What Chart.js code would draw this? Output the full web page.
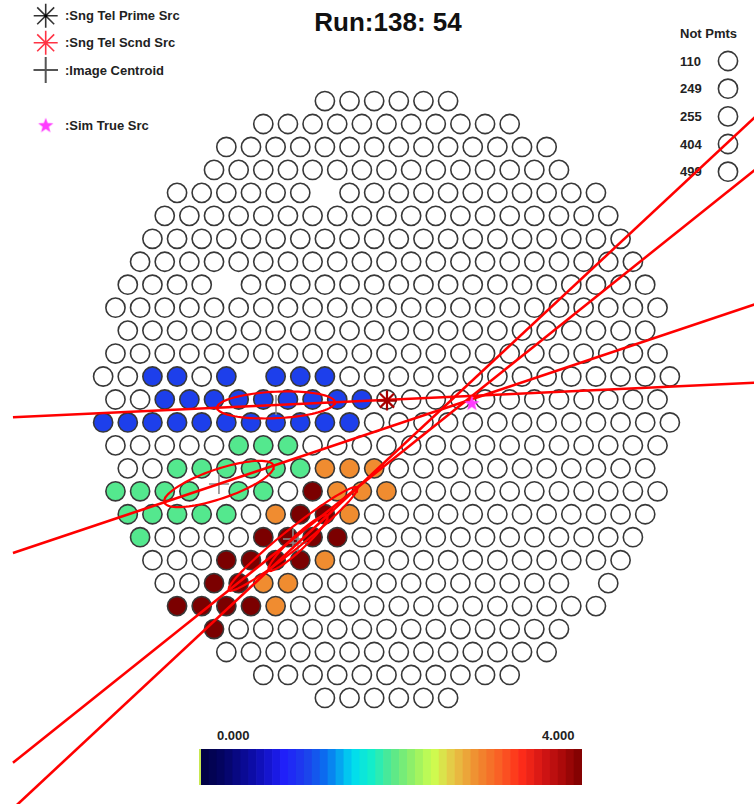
<!DOCTYPE html>
<html>
<head>
<meta charset="utf-8">
<script src="https://cdn.jsdelivr.net/npm/chart.js@4.4.1/dist/chart.umd.min.js"></script>
<style>
html,body{margin:0;padding:0;background:#fff;}
#wrap{position:relative;width:754px;height:804px;overflow:hidden;font-family:"Liberation Sans",Arial,Helvetica,sans-serif;}
.t{position:absolute;font-weight:bold;line-height:1;white-space:nowrap;color:#222;font-size:13px;z-index:1;}
#title{font-size:26px;color:#111;transform:translateX(-50%);}
#main{position:absolute;left:0;top:0;z-index:2;}
#cbar{position:absolute;left:201px;top:749px;z-index:3;}
#cbarEdge{position:absolute;left:199px;top:749px;width:2px;height:36px;background:#c8e850;z-index:3;}
</style>
</head>
<body>
<div id="wrap">
  <canvas id="main" width="754" height="804"></canvas>
  <div id="cbarEdge"></div>
  <canvas id="cbar" width="381" height="36"></canvas>
</div>
<script>
// ---------------- data ----------------
const runTitle = 'Run:138: 54';
const legendLabels = [':Sng Tel Prime Src', ':Sng Tel Scnd Src', ':Image Centroid', ':Sim True Src'];
const notPmtsTitle = 'Not Pmts';
const notPmtIds = [110, 249, 255, 404, 499];
// camera position (row, column in half-pitch units) of the switched-off PMTs
const notPmtRows = [4, 8, 12, 17, 21];
const notPmtCols = [-5, -13, -11, -14, 16];
// camera layout: half width of every pixel row (in half-pitch units)
const rowHalfWidths = [5,10,13,14,17,18,19,20,21,22,21,22,23,22,23,22,21,22,21,20,19,18,17,14,13,10,5];

// hit pixels: row, column, amplitude
const hitRow = [
  12,12,12,12,12,12,
  13,13,13,13,13,13,13,13,13,
  14,14,14,14,14,14,14,14,14,14,14,
  15,15,15,
  16,16,16,16,16,16,
  17,17,17,17,17,17,
  18,18,18,18,18,
  19,
  16,16,16,17,17,17,18,18,20,21,21,22,
  17,18,18,19,19,19,19,20,20,20,20,21,21,22,22,22,22,23
];
const hitCol = [
  -19,-17,-13,-9,-7,-5,
  -18,-16,-14,-12,-10,-8,-6,-4,-2,
  -23,-21,-19,-17,-15,-13,-11,-9,-7,-5,-3,
  -12,-10,-8,
  -17,-15,-13,-11,-9,-7,
  -22,-20,-18,-16,-12,-10,
  -21,-19,-17,-15,-13,
  -20,
  -5,-3,-1,-4,-2,0,-9,-3,-5,-10,-8,-9,
  -6,-7,-5,-10,-8,-6,-4,-13,-11,-9,-7,-14,-12,-17,-15,-13,-11,-14
];
const hitAmp = [
  1.1,1.1,1.1,1.1,1.1,1.1,
  1.1,1.1,1.1,1.1,1.1,1.1,1.1,1.1,1.1,
  1.1,1.1,1.1,1.1,1.1,1.1,1.1,1.1,1.1,1.1,1.1,
  2.0,2.0,2.0,
  2.0,2.0,2.0,2.0,2.0,2.0,
  2.0,2.0,2.0,2.0,2.0,2.0,
  2.0,2.0,2.0,2.0,2.0,
  2.0,
  2.9,2.9,2.9,2.9,2.9,2.9,2.9,2.9,2.9,2.9,2.9,2.9,
  4.0,4.0,4.0,4.0,4.0,4.0,4.0,4.0,4.0,4.0,4.0,4.0,4.0,4.0,4.0,4.0,4.0,4.0
];

// Hillas ellipses (camera units: pixel pitch)
const ellCx = [-4.485, -6.80, -3.795, -3.592];
const ellCy = [-0.207, -3.187, -5.262, -5.413];
const ellLength = [2.39, 2.32, 3.24, 1.57];
const ellWidth = [0.5, 0.56, 0.38, 0.28];
const ellAngle = [2.47, 17.3, 36.6, 40.9];
const axisXRange = [-15.16, 15.6];

// sources
const scndSrcX = [0.02];
const scndSrcY = [-0.04];
const simSrcX = [3.46];
const simSrcY = [-0.14];

// colour scale
const colorRange = [0, 4];
const colorTickLabels = ['0.000', '4.000'];
const nColorBands = 48;

// ---------------- helpers ----------------
const cmapStops = [
  [0.00,[0,0,64]],[0.06,[5,5,100]],[0.14,[12,12,170]],[0.22,[32,32,250]],
  [0.275,[29,63,235]],[0.33,[10,112,240]],[0.40,[0,220,240]],[0.45,[20,238,200]],
  [0.50,[84,232,142]],[0.56,[150,240,100]],[0.61,[205,255,80]],[0.66,[230,200,70]],
  [0.725,[240,140,48]],[0.79,[250,90,35]],[0.84,[255,45,25]],[0.90,[210,20,20]],
  [0.95,[170,10,10]],[1.00,[123,0,0]]
];
function colorFor(v){
  let t = (v - colorRange[0]) / (colorRange[1] - colorRange[0]);
  t = Math.max(0, Math.min(1, t));
  for (let i = 1; i < cmapStops.length; i++){
    if (t <= cmapStops[i][0]){
      const [t0,c0] = cmapStops[i-1], [t1,c1] = cmapStops[i];
      const f = (t - t0) / (t1 - t0);
      const c = c0.map((a,k)=>Math.round(a + (c1[k]-a)*f));
      return 'rgb(' + c.join(',') + ')';
    }
  }
  return 'rgb(123,0,0)';
}

const ROW_PITCH = Math.sqrt(3)/2;
const centerRow = (rowHalfWidths.length - 1) / 2;
const missing = new Set(notPmtRows.map((r,i)=>r + ':' + notPmtCols[i]));
const ampMap = new Map();
hitRow.forEach((r,i)=>ampMap.set(r + ':' + hitCol[i], hitAmp[i]));

const pixPts = [], pixColors = [];
rowHalfWidths.forEach((w, r) => {
  for (let c = -w; c <= w; c += 2){
    const k = r + ':' + c;
    if (missing.has(k)) continue;
    pixPts.push({x: c/2, y: (centerRow - r) * ROW_PITCH});
    pixColors.push(ampMap.has(k) ? colorFor(ampMap.get(k)) : '#ffffff');
  }
});

const RED = '#ff0000';
const datasets = [];
datasets.push({
  label:'pmts', data: pixPts, order: 100,
  pointStyle:'circle', pointRadius: 9.6, pointBackgroundColor: pixColors,
  pointBorderColor:'#383838', pointBorderWidth: 1.6, showLine:false
});
datasets.push({
  label:'centroids', data: ellCx.map((x,i)=>({x, y: ellCy[i]})), order: 50,
  pointStyle:'cross', pointRadius: 10, pointBorderColor:'#8a8a8a', pointBorderWidth: 1.6, showLine:false
});
ellCx.forEach((cx, i) => {
  const th = ellAngle[i] * Math.PI / 180;
  const a = ellLength[i], b = ellWidth[i], cy = ellCy[i];
  const pts = [];
  for (let k = 0; k <= 96; k++){
    const p = k / 96 * 2 * Math.PI;
    const ex = a * Math.cos(p), ey = b * Math.sin(p);
    pts.push({x: cx + ex*Math.cos(th) - ey*Math.sin(th), y: cy + ex*Math.sin(th) + ey*Math.cos(th)});
  }
  datasets.push({label:'ellipse'+i, data: pts, order: 40, showLine:true, pointRadius:0,
    borderColor: RED, borderWidth: 2.2, tension:0, fill:false});
  const slope = Math.tan(th);
  datasets.push({label:'axis'+i, data: axisXRange.map(x=>({x, y: cy + slope*(x - cx)})), order: 30,
    showLine:true, pointRadius:0, borderColor: RED, borderWidth: 2.6, tension:0, fill:false});
});
datasets.push({
  label:'scnd', data: scndSrcX.map((x,i)=>({x, y: scndSrcY[i]})), order: 20,
  pointStyle:'star', pointRadius: 10, pointBorderColor:'#a80000', pointBorderWidth: 2.2, showLine:false
});
// magenta star image used as point style
const starImg = document.createElement('canvas');
starImg.width = 18; starImg.height = 18;
(function(){
  const g = starImg.getContext('2d');
  g.fillStyle = '#ff3cff';
  g.beginPath();
  for (let k = 0; k < 10; k++){
    const r = k % 2 ? 3.3 : 8;
    const a = -Math.PI/2 + k*Math.PI/5;
    const x = 9 + r*Math.cos(a), y = 9.5 + r*Math.sin(a);
    k ? g.lineTo(x,y) : g.moveTo(x,y);
  }
  g.closePath(); g.fill();
})();
datasets.push({
  label:'sim', data: simSrcX.map((x,i)=>({x, y: simSrcY[i]})), order: 10,
  pointStyle: starImg, pointRadius: 9, showLine:false
});

// ---------------- text layer ----------------
const wrap = document.getElementById('wrap');
function addText(txt, left, centerY, extra){
  const d = document.createElement('div');
  d.className = 't';
  d.textContent = txt;
  d.style.left = left + 'px';
  d.style.top = (centerY - 6.5) + 'px';
  if (extra) d.id = extra;
  wrap.appendChild(d);
  return d;
}
const titleDiv = addText(runTitle, 388, 9, 'title');
titleDiv.style.top = '9px';
const legendY = [15.8, 42.8, 70, 125.8];
legendLabels.forEach((s,i)=>addText(s, 65, legendY[i]));
addText(notPmtsTitle, 680, 33);
const notPmtY = [61, 88.7, 116.4, 144, 171.7];
notPmtIds.forEach((n,i)=>addText(String(n), 680, notPmtY[i]));
addText(colorTickLabels[0], 217, 735.8);
addText(colorTickLabels[1], 542, 735.8);

// ---------------- decorations plugin ----------------
function asterisk(ctx, x, y, r, color, lw){
  ctx.save(); ctx.strokeStyle = color; ctx.lineWidth = lw; ctx.beginPath();
  for (let k = 0; k < 4; k++){
    const a = k*Math.PI/4;
    ctx.moveTo(x - r*Math.cos(a), y - r*Math.sin(a));
    ctx.lineTo(x + r*Math.cos(a), y + r*Math.sin(a));
  }
  ctx.stroke(); ctx.restore();
}
const deco = {
  id:'deco',
  beforeDatasetsDraw(chart){
    const ctx = chart.ctx;
    ctx.save();
    notPmtY.forEach(y=>{
      ctx.beginPath(); ctx.arc(728, y, 9.6, 0, 2*Math.PI);
      ctx.fillStyle = '#fff'; ctx.fill();
      ctx.strokeStyle = '#383838'; ctx.lineWidth = 1.6; ctx.stroke();
    });
    ctx.restore();
  },
  afterDatasetsDraw(chart){
    const ctx = chart.ctx;
    asterisk(ctx, 45.7, legendY[0], 12, '#333', 1.6);
    ctx.save(); ctx.fillStyle = '#000'; ctx.beginPath(); ctx.arc(45.7, legendY[0], 1.6, 0, 2*Math.PI); ctx.fill(); ctx.restore();
    asterisk(ctx, 45.7, legendY[1], 12, '#ff3344', 1.6);
    ctx.save(); ctx.strokeStyle = '#555'; ctx.lineWidth = 2; ctx.beginPath();
    ctx.moveTo(33.5, legendY[2]); ctx.lineTo(58, legendY[2]);
    ctx.moveTo(45.7, legendY[2]-13); ctx.lineTo(45.7, legendY[2]+13); ctx.stroke(); ctx.restore();
    ctx.drawImage(starImg, 45.7-9, legendY[3]-9.5, 18, 18);
  }
};

new Chart(document.getElementById('main'), {
  type:'scatter',
  data:{datasets},
  options:{
    responsive:false, animation:false, devicePixelRatio:1, events:[],
    layout:{padding:0, autoPadding:false},
    scales:{
      x:{type:'linear', display:false, bounds:'data', min:-15.686, max:14.915},
      y:{type:'linear', display:false, bounds:'data', min:-15.26, max:15.07}
    },
    plugins:{legend:{display:false}, tooltip:{enabled:false}, title:{display:false}}
  },
  plugins:[deco]
});

// ---------------- colour bar ----------------
const bandIdx = Array.from({length:nColorBands}, (_, i) => i);
new Chart(document.getElementById('cbar'), {
  type:'bar',
  data:{labels: bandIdx.map(String), datasets:[{
    data: bandIdx.map(()=>1),
    backgroundColor: bandIdx.map(i=>colorFor(colorRange[0] + (i+0.5)/nColorBands*(colorRange[1]-colorRange[0]))),
    borderWidth:0, barPercentage:1, categoryPercentage:1
  }]},
  options:{
    responsive:false, animation:false, devicePixelRatio:1, events:[],
    layout:{padding:0, autoPadding:false},
    scales:{x:{display:false}, y:{display:false, min:0, max:1}},
    plugins:{legend:{display:false}, tooltip:{enabled:false}}
  }
});
</script>
</body>
</html>
